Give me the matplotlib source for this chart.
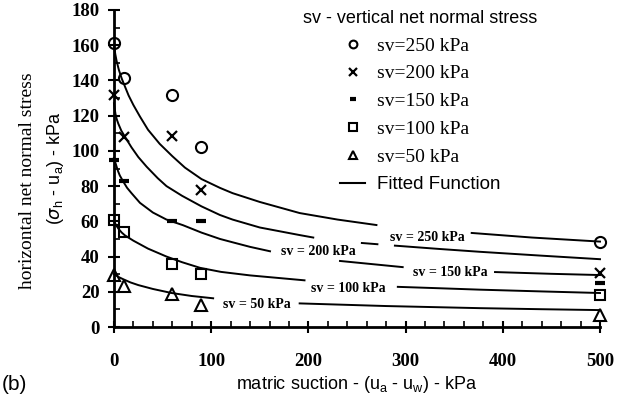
import numpy as np
import matplotlib
matplotlib.use("Agg")
import matplotlib.pyplot as plt
from matplotlib.lines import Line2D
from matplotlib.ticker import MultipleLocator

nan = np.nan

# measured points (matric suction, kPa)
suction = [0, 10, 60, 90, 500]
sv250 = [161, 141.5, 132, 102, 48.5]
sv200 = [131.5, 108, 108.5, 78, 30.5]
sv150 = [95, 83, 60, 60, 25]
sv100 = [60.5, 54, 36, 30, 18.2]
sv50 = [29.5, 23, 18.5, 12.5, 6.8]

# fitted curves (nan = gap for a label)
fit250_x = [0, 1.3, 2.7, 5, 8, 11.3, 15, 20, 26.7, 35, 47, 60, 73, 90, 109, 122, 150, 191, 230, 270, nan, 368, 430, 500]
fit250_y = [160, 155, 151, 146, 141, 136.5, 131.5, 126, 119.5, 112, 104, 97, 90.5, 84, 79, 76, 71, 64.7, 61, 57.9, nan, 53.4, 50.8, 48.5]
fit200_x = [0, 0.7, 1.5, 2.8, 4.4, 7.5, 11.3, 18, 25, 33.6, 45, 54, 70, 90, 109, 122, 150, 191, 205, nan, 255, 271, nan, 289, 335, 376.5, 440, 500]
fit200_y = [127, 124, 121, 118, 115.5, 111.5, 108, 102, 96.5, 91, 84.5, 80, 74.5, 68.5, 63.6, 61, 56.5, 52.2, 50.8, nan, 47.7, 47, nan, 46.2, 44.3, 42.7, 40.5, 38.5]
fit150_x = [0, 1.3, 2.7, 4.3, 6, 9.6, 13.5, 18, 26.7, 40, 54, 71, 90, 109, 122.7, 140, 160.5, nan, 232.5, 297, nan, 392, 450, 500]
fit150_y = [96, 93.5, 91, 88.3, 86, 82.5, 79, 76, 70.5, 65, 61, 57.8, 53.6, 50, 48, 45.5, 43, nan, 37.5, 34, nan, 31.2, 30.2, 29.5]
fit100_x = [0, 2.5, 5, 8, 11.3, 20, 35, 54, 70, 88.5, 110, 140, 170, 196, nan, 292, 335, 376.5, 440, 500]
fit100_y = [60, 57.5, 55.5, 53.6, 52, 49, 44.5, 40, 36.8, 33.6, 31.3, 29.3, 27.8, 26.5, nan, 22.8, 22, 21.2, 20.2, 19.3]
fit50_x = [0, 5, 10, 17, 25, 40, 59.3, 80, 102, nan, 191, 280, 376.5, 440, 500]
fit50_y = [30, 28.3, 27, 25.3, 23.8, 21.6, 19.3, 17.6, 16.3, nan, 13.4, 11.9, 10.7, 10.1, 9.6]

series_labels = ["sv=250 kPa", "sv=200 kPa", "sv=150 kPa", "sv=100 kPa", "sv=50 kPa"]
curve_labels = ["sv = 250 kPa", "sv = 200 kPa", "sv = 150 kPa", "sv = 100 kPa", "sv = 50 kPa"]
curve_label_pos = [(322, 51), (210, 43), (346, 31), (241, 22), (147, 12.5)]

SERIF = "Liberation Serif"
SANS = "Liberation Sans"

fig = plt.figure(figsize=(6.31, 4.05), dpi=100)
ax = fig.add_axes([114 / 631, 1 - 327 / 405, 486 / 631, 317 / 405])

styles = [
    dict(marker="o", ms=8, mew=1.5, mfc="none"),
    dict(marker="x", ms=7.5, mew=1.6),
    dict(marker="_", ms=7, mew=3),
    dict(marker="s", ms=7.5, mew=1.5, mfc="none"),
    dict(marker="^", ms=8, mew=1.5, mfc="none"),
]
data = [sv250, sv200, sv150, sv100, sv50]
for vals, st in zip(data, styles):
    ax.plot(suction, vals, ls="none", color="k", mec="k", clip_on=False, zorder=3, **st)

for fx, fy in [(fit250_x, fit250_y), (fit200_x, fit200_y), (fit150_x, fit150_y),
               (fit100_x, fit100_y), (fit50_x, fit50_y)]:
    ax.plot(fx, fy, color="k", lw=1.4, clip_on=False)

for txt, (x, y) in zip(curve_labels, curve_label_pos):
    ax.text(x, y, txt, ha="center", va="center", fontsize=10,
            family=SERIF, fontweight="bold")

ax.set_xlim(0, 500)
ax.set_ylim(0, 180)
ax.xaxis.set_major_locator(MultipleLocator(100))
ax.xaxis.set_minor_locator(MultipleLocator(20))
ax.yaxis.set_major_locator(MultipleLocator(20))
ax.yaxis.set_minor_locator(MultipleLocator(10))
for s in ["top", "right"]:
    ax.spines[s].set_visible(False)
for s in ["left", "bottom"]:
    ax.spines[s].set_linewidth(2)
ax.tick_params(which="major", direction="inout", length=9, width=1.5)
ax.tick_params(which="minor", direction="in", length=4, width=1.2)
ax.tick_params(axis="x", which="major", pad=14)
ax.tick_params(axis="y", which="major", pad=6)
for lab in ax.get_xticklabels() + ax.get_yticklabels():
    lab.set_family(SERIF)
    lab.set_fontweight("bold")
    lab.set_fontsize(13.5)

ax.text(-0.177, 0.46, "horizontal net normal stress", transform=ax.transAxes,
        rotation=90, ha="center", va="center", family=SERIF, fontsize=14)
ax.text(-0.121, 0.50, r"($\sigma_\mathregular{h}$ - u$_\mathregular{a}$) - kPa",
        transform=ax.transAxes, rotation=90, ha="center", va="center",
        family=SANS, fontsize=13)
ax.text(0.50, -0.18, r"matric suction - (u$_\mathregular{a}$ - u$_\mathregular{w}$) - kPa",
        transform=ax.transAxes, ha="center", va="center", family=SANS, fontsize=13)
fig.text(0.002, 1 - 385 / 405, "(b)", ha="left", va="center", family=SANS, fontsize=15)

handles = [Line2D([], [], ls="none", color="k", mec="k", **dict(st)) for st in styles]
handles.append(Line2D([], [], color="k", lw=1.5))
leg = ax.legend(handles, series_labels + ["Fitted Function"],
                title="sv - vertical net normal stress",
                loc="upper center", bbox_to_anchor=(0.63, 1.0),
                frameon=False, markerscale=0.7, handlelength=1.3,
                handletextpad=0.6, labelspacing=0.52, borderpad=0, borderaxespad=0,
                prop={"family": SERIF, "size": 14})
leg.get_title().set_family(SANS)
leg.get_title().set_fontsize(13)
leg.get_texts()[-1].set_family(SANS)
leg.get_texts()[-1].set_fontsize(13.5)

fig.savefig("out.png", dpi=100)
